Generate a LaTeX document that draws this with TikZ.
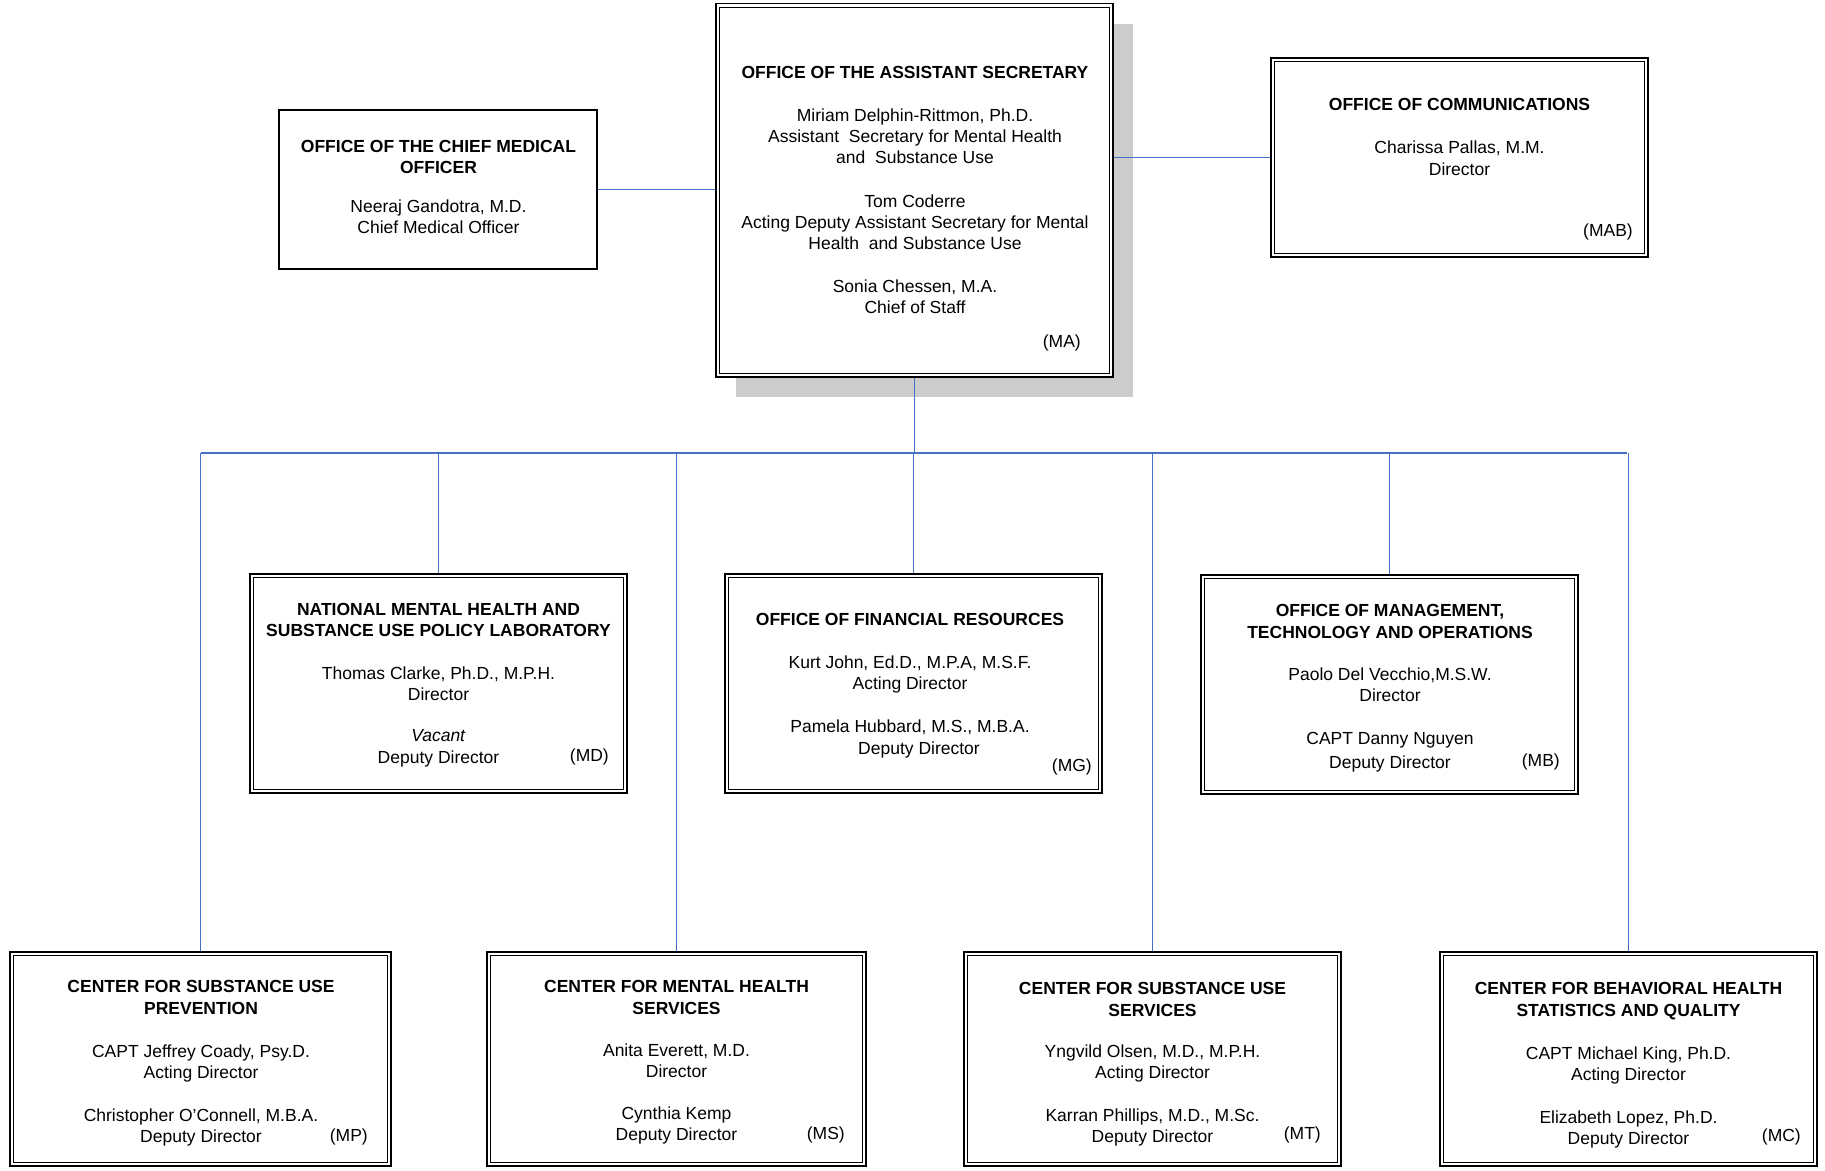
\documentclass[tikz,border=0pt]{standalone}
\usepackage{fontspec}
\setmainfont{Liberation Sans}
\usetikzlibrary{shadows}
\definecolor{connblue}{RGB}{68,114,196}
\definecolor{shadowgray}{RGB}{204,204,204}
\tikzset{
  basefont/.style={font=\fontsize{17.5pt}{21.3pt}\selectfont},
  dbox/.style={draw=black, line width=1.7pt, fill=white, inner sep=0pt},
  innerframe/.style={draw=black, line width=1pt},
  sbox/.style={draw=black, line width=1.3pt, fill=white, inner sep=0pt},
  txt/.style={basefont, align=center, inner sep=0pt, anchor=north},
  code/.style={basefont, inner sep=0pt, anchor=east},
  conn/.style={draw=connblue, line width=1.4pt},
  mashadow/.style={drop shadow={shadow xshift=20pt, shadow yshift=-20pt, fill=shadowgray, opacity=1}}
}
\begin{document}
\begin{tikzpicture}[x=1pt, y=-1pt]
\useasboundingbox (0,0) rectangle (1825,1170);
\fill[white] (0,0) rectangle (1825,1170);

% boxes
\node[dbox, mashadow, minimum width=397pt, minimum height=373.5pt] (ma) at (914.5,190.25) {};
\node[sbox, minimum width=318pt, minimum height=159pt] (cmo) at (438,189.5) {};
\node[dbox, minimum width=377pt, minimum height=199pt] (comm) at (1459.5,157.5) {};
\node[dbox, minimum width=377pt, minimum height=219pt] (md) at (438.5,683.5) {};
\node[dbox, minimum width=377pt, minimum height=219pt] (mg) at (913.5,683.5) {};
\node[dbox, minimum width=377pt, minimum height=219pt] (mb) at (1389.5,684.5) {};
\node[dbox, minimum width=381pt, minimum height=214pt] (mp) at (200.5,1059) {};
\node[dbox, minimum width=379pt, minimum height=214pt] (ms) at (676.5,1059) {};
\node[dbox, minimum width=377pt, minimum height=214pt] (mt) at (1152.5,1059) {};
\node[dbox, minimum width=377pt, minimum height=214pt] (mc) at (1628.5,1059) {};

% inner frames of the double borders
\foreach \n in {ma,comm,md,mg,mb,mp,ms,mt,mc}
  \draw[innerframe] ([shift={(4.6pt,-4.6pt)}]\n.north west) rectangle ([shift={(-4.6pt,4.6pt)}]\n.south east);

% connectors
\coordinate (busL) at (201,453);
\coordinate (busR) at (1627,453);
\draw[conn] (cmo.east) -- (cmo.east -| ma.west);
\draw[conn] (comm.west) -- (comm.west -| ma.east);
\draw[conn] (ma.south) -- (ma.south |- busL);
\draw[conn] (busL) -- (busR);
\draw[conn] (md.north) -- (md.north |- busL);
\draw[conn] (mg.north) -- (mg.north |- busL);
\draw[conn] (mb.north) -- (mb.north |- busL);
\draw[conn] (mp.north) -- (mp.north |- busL);
\draw[conn] (ms.north) -- (ms.north |- busL);
\draw[conn] (mt.north) -- (mt.north |- busL);
\draw[conn] (mc.north) -- (mc.north |- busL);

% texts
\node[txt] (matxt) at (915,66.5) {\textbf{OFFICE OF THE ASSISTANT SECRETARY}\\[21pt]
Miriam Delphin-Rittmon, Ph.D.\\
Assistant\ \ Secretary for Mental Health\\
and\ \ Substance Use\\[22pt]
Tom Coderre\\
Acting Deputy Assistant Secretary for Mental\\
Health\ \ and Substance Use\\[21pt]
Sonia Chessen, M.A.\\
Chief of Staff};
\node[code] (macode) at (1081,343.3) {(MA)};

\node[txt] (cmotxt) at (438.5,140) {\textbf{OFFICE OF THE CHIEF MEDICAL}\\
\textbf{OFFICER}\\[17pt]
Neeraj Gandotra, M.D.\\
Chief Medical Officer};

\node[txt] (commtxt) at (1459.5,98.1) {\textbf{OFFICE OF COMMUNICATIONS}\\[22pt]
Charissa Pallas, M.M.\\
Director};
\node[code] (commcode) at (1633,232.3) {(MAB)};

\node[txt] (mdtxt) at (438.5,603.2) {\textbf{NATIONAL MENTAL HEALTH AND}\\
\textbf{SUBSTANCE USE POLICY LABORATORY}\\[21pt]
Thomas Clarke, Ph.D., M.P.H.\\
Director\\[20pt]
\textit{Vacant}\hspace*{18pt}\\
Deputy Director};
\node[code] (mdcode) at (609,757.3) {(MD)};

\node[txt] (mgtxt) at (910,613.5) {\textbf{OFFICE OF FINANCIAL RESOURCES}\\[21pt]
Kurt John, Ed.D., M.P.A, M.S.F.\\
Acting Director\\[22pt]
Pamela Hubbard, M.S., M.B.A.\\
\hspace*{18pt}Deputy Director};
\node[code] (mgcode) at (1092,767.3) {(MG)};

\node[txt] (mbtxt) at (1390,604.5) {\textbf{OFFICE OF MANAGEMENT,}\\
\textbf{TECHNOLOGY AND OPERATIONS}\\[21pt]
Paolo Del Vecchio,M.S.W.\\
Director\\[21pt]
CAPT Danny Nguyen\\[3pt]
Deputy Director};
\node[code] (mbcode) at (1560,762.3) {(MB)};

\node[txt] (mptxt) at (201,980.5) {\textbf{CENTER FOR SUBSTANCE USE}\\
\textbf{PREVENTION}\\[22pt]
CAPT Jeffrey Coady, Psy.D.\\
Acting Director\\[21pt]
Christopher O’Connell, M.B.A.\\
Deputy Director};
\node[code] (mpcode) at (368,1137.3) {(MP)};

\node[txt] (mstxt) at (676.5,980.5) {\textbf{CENTER FOR MENTAL HEALTH}\\
\textbf{SERVICES}\\[21pt]
Anita Everett, M.D.\\
Director\\[20pt]
Cynthia Kemp\\
Deputy Director};
\node[code] (mscode) at (845,1134.8) {(MS)};

\node[txt] (mttxt) at (1152.5,982.5) {\textbf{CENTER FOR SUBSTANCE USE}\\
\textbf{SERVICES}\\[20pt]
Yngvild Olsen, M.D., M.P.H.\\
Acting Director\\[21pt]
Karran Phillips, M.D., M.Sc.\\
Deputy Director};
\node[code] (mtcode) at (1321,1134.8) {(MT)};

\node[txt] (mctxt) at (1628.5,982.5) {\textbf{CENTER FOR BEHAVIORAL HEALTH}\\
\textbf{STATISTICS AND QUALITY}\\[22pt]
CAPT Michael King, Ph.D.\\
Acting Director\\[21pt]
Elizabeth Lopez, Ph.D.\\
Deputy Director};
\node[code] (mccode) at (1801,1137.3) {(MC)};
\end{tikzpicture}
\end{document}
